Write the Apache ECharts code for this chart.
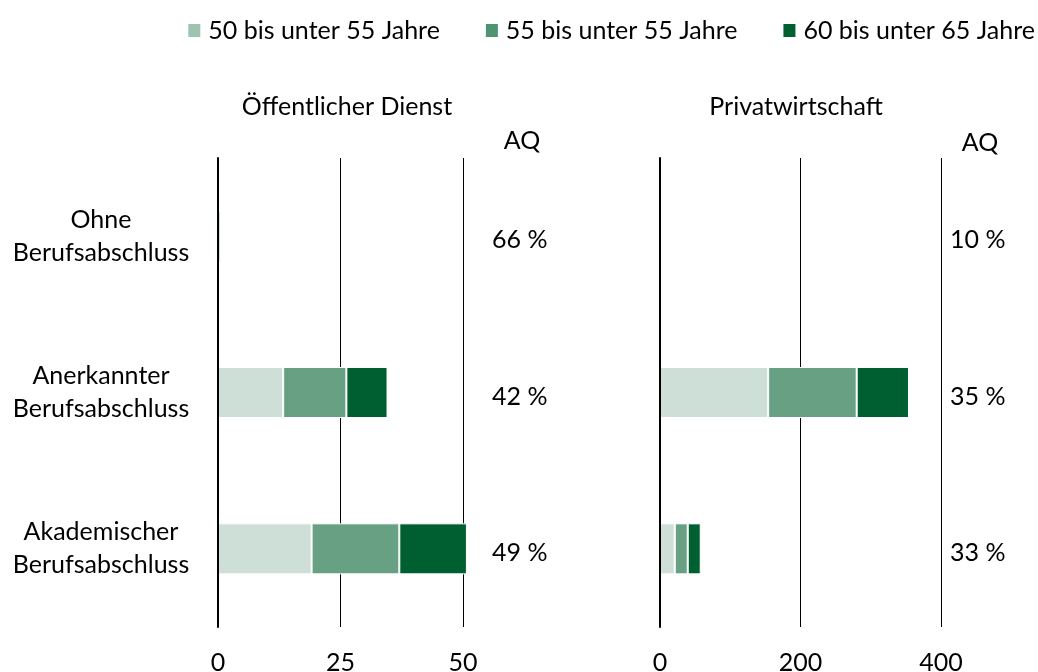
<!DOCTYPE html>
<html>
<head>
<meta charset="utf-8">
<script src="https://cdn.jsdelivr.net/npm/echarts@6/dist/echarts.min.js"></script>
<style>
  html, body { margin: 0; padding: 0; background: #fff; }
  #chart { width: 1038px; height: 672px; }
</style>
</head>
<body>
<div id="chart"></div>
<script>
const categories = ['Ohne\nBerufsabschluss', 'Anerkannter\nBerufsabschluss', 'Akademischer\nBerufsabschluss'];
const seriesNames = ['50 bis unter 55 Jahre', '55 bis unter 55 Jahre', '60 bis unter 65 Jahre'];

// Öffentlicher Dienst
const oed50 = [0.6, 13.3, 19.1];
const oed55 = [0.3, 12.9, 17.9];
const oed60 = [0.2, 8.4, 13.8];
const oedAQ = ['66 %', '42 %', '49 %'];

// Privatwirtschaft
const priv50 = [0, 154, 21];
const priv55 = [0, 126, 18.5];
const priv60 = [0, 74.5, 18.5];
const privAQ = ['10 %', '35 %', '33 %'];

const barColors = ['#cddfd6', '#67a083', '#005f30'];
const legendColors = ['#9cc4b0', '#4f9472', '#005f30'];

const FONT = 'Lato';
const FS = 25;

const chart = echarts.init(document.getElementById('chart'));

function xAxis(gridIndex, max, interval) {
  return {
    type: 'value',
    gridIndex: gridIndex,
    min: 0,
    max: max,
    interval: interval,
    axisLine: { show: false },
    axisTick: { show: false },
    splitLine: { show: true, lineStyle: { color: '#000', width: 1 } },
    axisLabel: { color: '#000', fontFamily: FONT, fontSize: FS, margin: 23 }
  };
}

function aqAxis(gridIndex, data, margin) {
  return {
    type: 'category', gridIndex: gridIndex, inverse: true, position: 'right', data: data,
    axisLine: { show: false }, axisTick: { show: false },
    axisLabel: {
      align: 'left', margin: margin,
      formatter: v => '{a|' + v + '}',
      rich: { a: { color: '#000', fontFamily: FONT, fontSize: FS, padding: [8, 0, 0, 0] } }
    }
  };
}

function bars(name, data, idx, gridIndex) {
  return {
    name: name,
    type: 'bar',
    stack: 'g' + gridIndex,
    xAxisIndex: gridIndex,
    yAxisIndex: gridIndex * 2,
    data: data,
    barWidth: 51,
    clip: false,
    itemStyle: { color: barColors[idx], borderColor: '#fff', borderWidth: 1 }
  };
}

function titleText(text, x, y) {
  return { type: 'text', style: { text: text, x: x, y: y, fontFamily: FONT, fontSize: FS, fill: '#000', align: 'center', verticalAlign: 'middle' } };
}

const option = {
  animation: false,
  textStyle: { fontFamily: FONT },
  legend: {
    top: 18,
    right: 3,
    padding: 0,
    itemWidth: 14,
    itemHeight: 15,
    itemGap: 44,
    textStyle: { color: '#000', fontFamily: FONT, fontSize: FS, padding: [0, 0, 0, 2] },
    data: seriesNames.map((n, i) => ({ name: n, icon: 'rect', itemStyle: { color: legendColors[i] } }))
  },
  grid: [
    { left: 218, top: 158, width: 245, height: 469, outerBoundsMode: 'none' },
    { left: 660, top: 158, width: 281, height: 469, outerBoundsMode: 'none' }
  ],
  xAxis: [xAxis(0, 50, 25), xAxis(1, 400, 200)],
  yAxis: [
    {
      type: 'category', gridIndex: 0, inverse: true, data: categories, z: 3,
      axisLine: { show: true, lineStyle: { color: '#000', width: 2 } },
      axisTick: { show: false },
      axisLabel: { color: '#000', fontFamily: FONT, fontSize: FS, lineHeight: 33, align: 'center', margin: 117 }
    },
    aqAxis(0, oedAQ, 29),
    {
      type: 'category', gridIndex: 1, inverse: true, data: categories, z: 3,
      axisLine: { show: true, lineStyle: { color: '#000', width: 2 } },
      axisTick: { show: false },
      axisLabel: { show: false }
    },
    aqAxis(1, privAQ, 9)
  ],
  graphic: [
    titleText('Öffentlicher Dienst', 347, 107),
    titleText('AQ', 522, 141),
    titleText('Privatwirtschaft', 796, 107),
    titleText('AQ', 980, 143)
  ],
  series: [
    bars(seriesNames[0], oed50, 0, 0),
    bars(seriesNames[1], oed55, 1, 0),
    bars(seriesNames[2], oed60, 2, 0),
    bars(seriesNames[0], priv50, 0, 1),
    bars(seriesNames[1], priv55, 1, 1),
    bars(seriesNames[2], priv60, 2, 1)
  ]
};

chart.setOption(option);
</script>
</body>
</html>
